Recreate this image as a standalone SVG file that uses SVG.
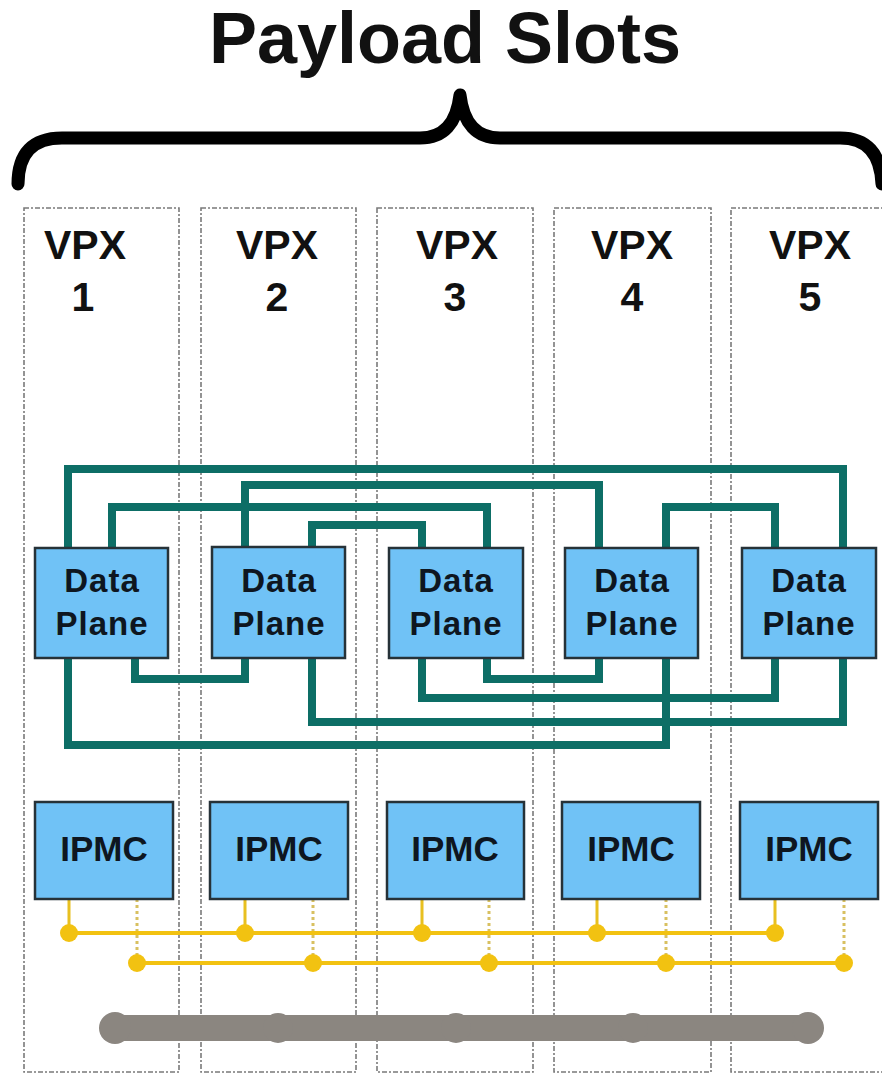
<svg xmlns="http://www.w3.org/2000/svg" width="882" height="1075" viewBox="0 0 882 1075">
<style>
.slot{fill:none;stroke:#7a7a7a;stroke-width:1.6;stroke-dasharray:5 2 2 2}
.box{fill:#70c2f6;stroke:#263238;stroke-width:2.5}
.lbl{font-family:"Liberation Sans",Arial,sans-serif;font-weight:bold;fill:#0e1620;text-anchor:middle}
.dp{font-size:33px;letter-spacing:1px}
.vpx{font-family:"Liberation Sans",Arial,sans-serif;font-weight:bold;fill:#111;text-anchor:middle;font-size:41px}
.link{fill:none;stroke:#0d6e66;stroke-width:8;stroke-linejoin:miter;stroke-linecap:butt}
.bus{fill:none;stroke:#f2c211;stroke-width:4}
.stub{fill:none;stroke:#e8c020;stroke-width:3}
.dstub{fill:none;stroke:#d8c060;stroke-width:3;stroke-dasharray:3 3}
.dot{fill:#f2c211}
.gb{fill:#8b8680}
</style>
<rect width="882" height="1075" fill="#ffffff"/>
<g id="slots">
<rect class="slot" x="24" y="208" width="155" height="864"/>
<rect class="slot" x="201" y="208" width="155" height="864"/>
<rect class="slot" x="377" y="208" width="156" height="864"/>
<rect class="slot" x="554" y="208" width="157" height="864"/>
<rect class="slot" x="731" y="208" width="157" height="864"/>
</g>
<g id="title">
<text x="445" y="63" font-family="Liberation Sans, Arial, sans-serif" font-weight="bold" font-size="72" text-anchor="middle" fill="#111">Payload Slots</text>
<path d="M18,184 Q18,138 62,138 L420,138 Q455,138 460,95 Q465,138 500,138 L840,138 Q880,138 882,184" fill="none" stroke="#000" stroke-width="13" stroke-linecap="round" stroke-linejoin="round"/>
</g>
<g id="slot-labels">
<text class="vpx" x="85" y="259">VPX</text><text class="vpx" x="83" y="311">1</text>
<text class="vpx" x="277" y="259">VPX</text><text class="vpx" x="277" y="311">2</text>
<text class="vpx" x="457" y="259">VPX</text><text class="vpx" x="455" y="311">3</text>
<text class="vpx" x="632" y="259">VPX</text><text class="vpx" x="632" y="311">4</text>
<text class="vpx" x="810" y="259">VPX</text><text class="vpx" x="810" y="311">5</text>
</g>
<g id="connectors">
<path class="link" d="M68,552 V469 H843 V552"/>
<path class="link" d="M245,552 V485 H599 V552"/>
<path class="link" d="M112,552 V507 H487 V552"/>
<path class="link" d="M666,552 V507 H775 V552"/>
<path class="link" d="M312,552 V525 H422 V552"/>
<path class="link" d="M135,655 V679 H245 V655"/>
<path class="link" d="M487,655 V679 H599 V655"/>
<path class="link" d="M422,655 V698 H775 V655"/>
<path class="link" d="M312,655 V722 H843 V655"/>
<path class="link" d="M68,655 V745 H666 V655"/>
<path class="stub" d="M69,899 V933 M245,899 V933 M422,899 V933 M597,899 V933 M775,899 V933"/>
<path class="dstub" d="M137,899 V963 M313,899 V963 M489,899 V963 M666,899 V963 M844,899 V963"/>
<path class="bus" d="M69,933 H775 M137,963 H844"/>
<g class="dot">
<circle cx="69" cy="933" r="9"/><circle cx="245" cy="933" r="9"/><circle cx="422" cy="933" r="9"/><circle cx="597" cy="933" r="9"/><circle cx="775" cy="933" r="9"/>
<circle cx="137" cy="963" r="9"/><circle cx="313" cy="963" r="9"/><circle cx="489" cy="963" r="9"/><circle cx="666" cy="963" r="9"/><circle cx="844" cy="963" r="9"/>
</g>
<g class="gb">
<rect x="115" y="1015" width="693" height="26"/>
<circle cx="115" cy="1028" r="16"/><circle cx="278" cy="1028" r="15"/><circle cx="456" cy="1028" r="15"/><circle cx="633" cy="1028" r="15"/><circle cx="808" cy="1028" r="16"/>
</g>
</g>
<g id="dp1"><rect class="box" x="35" y="548" width="133" height="110"/><text class="lbl dp" x="102" y="592">Data</text><text class="lbl dp" x="102" y="635">Plane</text></g>
<g id="dp2"><rect class="box" x="212" y="547" width="133" height="111"/><text class="lbl dp" x="279" y="592">Data</text><text class="lbl dp" x="279" y="635">Plane</text></g>
<g id="dp3"><rect class="box" x="389" y="548" width="134" height="110"/><text class="lbl dp" x="456" y="592">Data</text><text class="lbl dp" x="456" y="635">Plane</text></g>
<g id="dp4"><rect class="box" x="565" y="548" width="133" height="110"/><text class="lbl dp" x="632" y="592">Data</text><text class="lbl dp" x="632" y="635">Plane</text></g>
<g id="dp5"><rect class="box" x="742" y="548" width="134" height="110"/><text class="lbl dp" x="809" y="592">Data</text><text class="lbl dp" x="809" y="635">Plane</text></g>
<g id="ipmc1"><rect class="box" x="35" y="802" width="138" height="97"/><text class="lbl" font-size="35" x="104" y="861">IPMC</text></g>
<g id="ipmc2"><rect class="box" x="210" y="802" width="138" height="97"/><text class="lbl" font-size="35" x="279" y="861">IPMC</text></g>
<g id="ipmc3"><rect class="box" x="387" y="802" width="137" height="97"/><text class="lbl" font-size="35" x="455" y="861">IPMC</text></g>
<g id="ipmc4"><rect class="box" x="562" y="802" width="138" height="97"/><text class="lbl" font-size="35" x="631" y="861">IPMC</text></g>
<g id="ipmc5"><rect class="box" x="740" y="802" width="138" height="97"/><text class="lbl" font-size="35" x="809" y="861">IPMC</text></g>
</svg>
